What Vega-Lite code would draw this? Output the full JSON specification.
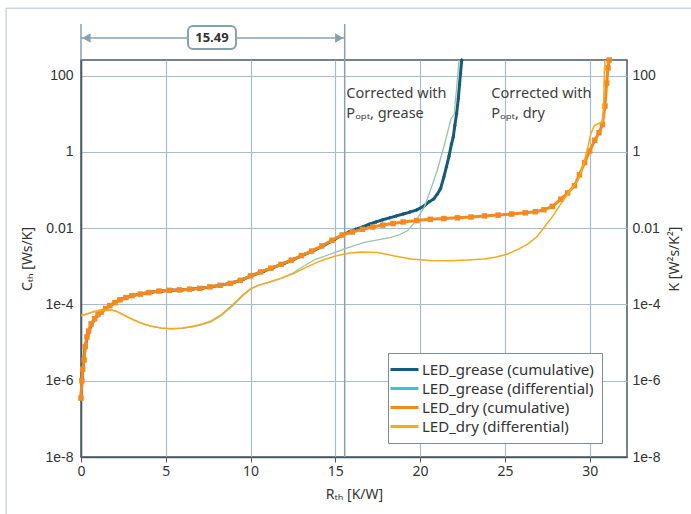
{
  "$schema": "https://vega.github.io/schema/vega-lite/v6.json",
  "width": 546,
  "height": 397,
  "padding": {"left": 5, "top": 7, "right": 0, "bottom": 0},
  "background": "white",
  "datasets": {
    "grease_cum": [
      {"R":0,"C":3.5e-7},{"R":0.1,"C":2e-6},{"R":0.25,"C":7.9e-6},{"R":0.45,"C":2e-5},{"R":0.8,"C":4.2e-5},{"R":1.2,"C":6.3e-5},{"R":1.7,"C":9.3e-5},{"R":2.3,"C":1.32e-4},{"R":3.0,"C":1.7e-4},{"R":3.6,"C":1.9e-4},{"R":4.2,"C":2.1e-4},{"R":4.8,"C":2.25e-4},{"R":5.4,"C":2.35e-4},{"R":6.0,"C":2.42e-4},{"R":6.6,"C":2.52e-4},{"R":7.2,"C":2.68e-4},{"R":7.8,"C":2.95e-4},{"R":8.4,"C":3.3e-4},{"R":9.0,"C":3.75e-4},{"R":9.6,"C":4.6e-4},{"R":10.2,"C":6.0e-4},{"R":10.8,"C":7.5e-4},{"R":11.4,"C":9.5e-4},{"R":12.0,"C":1.2e-3},{"R":12.6,"C":1.55e-3},{"R":13.2,"C":2.05e-3},{"R":13.8,"C":2.7e-3},{"R":14.4,"C":3.7e-3},{"R":15.0,"C":5.2e-3},{"R":15.4,"C":6.6e-3},{"R":15.8,"C":7.9e-3},{"R":16.2,"C":9.3e-3},{"R":16.6,"C":0.0107},{"R":17.0,"C":0.0126},{"R":17.4,"C":0.0145},{"R":17.8,"C":0.0166},{"R":18.2,"C":0.0186},{"R":18.6,"C":0.0209},{"R":19.0,"C":0.0234},{"R":19.4,"C":0.0263},{"R":19.8,"C":0.030},{"R":20.2,"C":0.037},{"R":20.5,"C":0.048},{"R":20.8,"C":0.058},{"R":21.0,"C":0.076},{"R":21.2,"C":0.107},{"R":21.4,"C":0.22},{"R":21.55,"C":0.4},{"R":21.7,"C":0.76},{"R":21.85,"C":1.6},{"R":21.95,"C":2.4},{"R":22.05,"C":5},{"R":22.15,"C":10},{"R":22.25,"C":24.5},{"R":22.32,"C":56},{"R":22.38,"C":112},{"R":22.45,"C":255}
    ],
    "grease_diff": [
      {"R":0,"C":5e-5},{"R":0.3,"C":5.5e-5},{"R":0.8,"C":6.5e-5},{"R":1.3,"C":6.9e-5},{"R":1.77,"C":7.2e-5},{"R":2.1,"C":6.6e-5},{"R":2.4,"C":5.7e-5},{"R":2.95,"C":4.2e-5},{"R":3.5,"C":3.3e-5},{"R":4.1,"C":2.7e-5},{"R":4.72,"C":2.4e-5},{"R":5.3,"C":2.3e-5},{"R":6.0,"C":2.35e-5},{"R":6.66,"C":2.6e-5},{"R":7.2,"C":3.0e-5},{"R":7.67,"C":3.5e-5},{"R":8.3,"C":5.2e-5},{"R":9.0,"C":9.5e-5},{"R":9.5,"C":1.6e-4},{"R":10.0,"C":2.5e-4},{"R":10.5,"C":3.2e-4},{"R":11.0,"C":3.7e-4},{"R":11.8,"C":4.9e-4},{"R":12.5,"C":6.6e-4},{"R":13.0,"C":9.3e-4},{"R":13.8,"C":1.5e-3},{"R":14.74,"C":2.1e-3},{"R":15.5,"C":2.8e-3},{"R":16.7,"C":4.2e-3},{"R":17.5,"C":4.9e-3},{"R":18.28,"C":5.7e-3},{"R":18.8,"C":6.8e-3},{"R":19.26,"C":8.5e-3},{"R":19.75,"C":0.0156},{"R":20.24,"C":0.035},{"R":20.64,"C":0.107},{"R":21.03,"C":0.35},{"R":21.42,"C":1.46},{"R":21.82,"C":7.3},{"R":22.01,"C":9.8},{"R":22.11,"C":30},{"R":22.25,"C":150},{"R":22.3,"C":255}
    ],
    "dry_cum": [
      {"R":0,"C":3.5e-7},{"R":0.05,"C":1e-6},{"R":0.1,"C":2e-6},{"R":0.18,"C":3.5e-6},{"R":0.25,"C":7.9e-6},{"R":0.35,"C":1.4e-5},{"R":0.45,"C":2e-5},{"R":0.6,"C":3.1e-5},{"R":0.8,"C":4.2e-5},{"R":1.0,"C":5.4e-5},{"R":1.2,"C":6.3e-5},{"R":1.45,"C":7.8e-5},{"R":1.7,"C":9.3e-5},{"R":2.0,"C":1.12e-4},{"R":2.3,"C":1.32e-4},{"R":2.65,"C":1.51e-4},{"R":3.0,"C":1.7e-4},{"R":3.5,"C":1.86e-4},{"R":4.0,"C":2.04e-4},{"R":4.6,"C":2.24e-4},{"R":5.2,"C":2.34e-4},{"R":5.8,"C":2.4e-4},{"R":6.4,"C":2.51e-4},{"R":7.0,"C":2.63e-4},{"R":7.6,"C":2.88e-4},{"R":8.2,"C":3.16e-4},{"R":8.8,"C":3.55e-4},{"R":9.4,"C":4.27e-4},{"R":10.0,"C":5.6e-4},{"R":10.6,"C":7.1e-4},{"R":11.2,"C":8.9e-4},{"R":11.8,"C":1.12e-3},{"R":12.4,"C":1.45e-3},{"R":13.0,"C":1.9e-3},{"R":13.6,"C":2.5e-3},{"R":14.2,"C":3.4e-3},{"R":14.8,"C":4.8e-3},{"R":15.4,"C":6.6e-3},{"R":16.0,"C":7.9e-3},{"R":16.6,"C":9.3e-3},{"R":17.2,"C":0.0107},{"R":17.8,"C":0.012},{"R":18.4,"C":0.0132},{"R":19.0,"C":0.0145},{"R":19.8,"C":0.0158},{"R":20.6,"C":0.017},{"R":21.4,"C":0.0178},{"R":22.2,"C":0.0186},{"R":23.0,"C":0.0195},{"R":23.8,"C":0.0209},{"R":24.6,"C":0.0219},{"R":25.4,"C":0.0234},{"R":26.2,"C":0.0251},{"R":26.8,"C":0.0269},{"R":27.3,"C":0.0302},{"R":27.8,"C":0.0372},{"R":28.3,"C":0.0575},{"R":28.7,"C":0.083},{"R":29.1,"C":0.129},{"R":29.4,"C":0.251},{"R":29.7,"C":0.525},{"R":30.0,"C":1.05},{"R":30.3,"C":2.0},{"R":30.55,"C":3.16},{"R":30.75,"C":5.2},{"R":30.9,"C":15.8},{"R":31.0,"C":63},{"R":31.08,"C":158},{"R":31.15,"C":255}
    ],
    "dry_diff": [
      {"R":0,"C":5.2e-5},{"R":0.3,"C":5.5e-5},{"R":0.8,"C":6.6e-5},{"R":1.3,"C":6.9e-5},{"R":1.77,"C":7.1e-5},{"R":2.1,"C":6.6e-5},{"R":2.4,"C":5.6e-5},{"R":2.95,"C":4.2e-5},{"R":3.5,"C":3.3e-5},{"R":4.1,"C":2.7e-5},{"R":4.72,"C":2.4e-5},{"R":5.3,"C":2.3e-5},{"R":6.0,"C":2.4e-5},{"R":6.66,"C":2.7e-5},{"R":7.2,"C":3.1e-5},{"R":7.67,"C":3.7e-5},{"R":8.3,"C":5.5e-5},{"R":9.0,"C":1.04e-4},{"R":9.5,"C":1.7e-4},{"R":10.0,"C":2.6e-4},{"R":10.5,"C":3.2e-4},{"R":11.0,"C":3.7e-4},{"R":11.8,"C":4.8e-4},{"R":12.5,"C":6.3e-4},{"R":13.3,"C":9.5e-4},{"R":14.15,"C":1.4e-3},{"R":15.0,"C":1.85e-3},{"R":15.75,"C":2.2e-3},{"R":16.5,"C":2.35e-3},{"R":17.49,"C":2.3e-3},{"R":18.5,"C":1.85e-3},{"R":19.46,"C":1.55e-3},{"R":20.6,"C":1.42e-3},{"R":21.8,"C":1.4e-3},{"R":22.8,"C":1.45e-3},{"R":23.78,"C":1.55e-3},{"R":24.5,"C":1.75e-3},{"R":25.16,"C":2.1e-3},{"R":25.8,"C":2.8e-3},{"R":26.34,"C":3.8e-3},{"R":26.9,"C":6.0e-3},{"R":27.32,"C":0.0105},{"R":27.8,"C":0.02},{"R":28.3,"C":0.043},{"R":28.8,"C":0.09},{"R":29.29,"C":0.175},{"R":29.55,"C":0.35},{"R":29.8,"C":0.9},{"R":30.07,"C":3.0},{"R":30.27,"C":4.9},{"R":30.56,"C":5.6},{"R":30.76,"C":5.9},{"R":30.82,"C":16},{"R":30.86,"C":100},{"R":30.9,"C":255}
    ]
  },
  "layer": [
    {
      "encoding": {
        "x": {"field": "R", "type": "quantitative", "scale": {"domain": [0, 32.2], "nice": false, "zero": false},
          "axis": {"title": "Rₜₕ [K/W]", "values": [0,5,10,15,20,25,30], "grid": true, "tickSize": 5, "labelFont": "Noto Sans", "labelFontSize": 14, "labelPadding": 2, "titlePadding": 9, "labelFlush": false}},
        "y": {"field": "C", "type": "quantitative", "scale": {"type": "log", "domain": [1e-8, 255], "nice": false},
          "axis": {"title": "Cₜₕ [Ws/K]", "values": [1e-8,1e-6,1e-4,0.01,1,100], "grid": true, "tickSize": 0, "labelPadding": 8, "titlePadding": 10, "labelFlush": false,
            "labelExpr": "datum.value >= 1 ? format(datum.value, 'd') : datum.value >= 0.01 ? '0.01' : '1e' + round(log(datum.value) / LN10)"}}
      },
      "layer": [
        {
          "data": {"values": [{"R": -4.42, "R2": 36.0, "C": 5821}]},
          "mark": {"type": "rule", "color": "#b3c2cc", "strokeWidth": 1},
          "encoding": {"x2": {"field": "R2"}}
        },
        {
          "data": {"values": [{"R": -4.42, "C": 3.2e-10, "C2": 5821}]},
          "mark": {"type": "rule", "color": "#b3c2cc", "strokeWidth": 1},
          "encoding": {"y2": {"field": "C2"}}
        },
        {
          "data": {"values": [{"R": 0, "C": 255, "C2": 2240}, {"R": 15.55, "C": 1e-8, "C2": 2240}]},
          "mark": {"type": "rule", "color": "#87a0b0", "strokeWidth": 1.5},
          "encoding": {"y2": {"field": "C2"}}
        },
        {
          "data": {"values": [{"R": 0, "R2": 15.55, "C": 963}]},
          "mark": {"type": "rule", "color": "#87a0b0", "strokeWidth": 1.5},
          "encoding": {"x2": {"field": "R2"}}
        },
        {
          "data": {"values": [{"R": 0.32, "C": 963, "dir": "left"}, {"R": 15.23, "C": 963, "dir": "right"}]},
          "mark": {"type": "point", "filled": true, "color": "#87a0b0", "size": 90, "opacity": 1},
          "encoding": {"shape": {"field": "dir", "type": "nominal", "scale": {"domain": ["left", "right"], "range": ["triangle-left", "triangle-right"]}, "legend": null}}
        },
        {
          "data": {"values": [{"R": 6.31, "R2": 9.14, "C": 495, "C2": 1995}]},
          "mark": {"type": "rect", "fill": "white", "stroke": "#87a0b0", "strokeWidth": 2, "cornerRadius": 5},
          "encoding": {"x2": {"field": "R2"}, "y2": {"field": "C2"}}
        },
        {
          "data": {"values": [{"R": 7.72, "C": 963, "label": "15.49"}]},
          "mark": {"type": "text", "font": "Noto Sans", "fontSize": 13, "fontWeight": "bold", "color": "#333333", "align": "center", "baseline": "middle"},
          "encoding": {"text": {"field": "label"}}
        },
        {
          "data": {"name": "grease_cum"},
          "transform": [{"calculate": "'LED_grease (cumulative)'", "as": "series"}],
          "mark": {"type": "line", "strokeWidth": 3, "point": {"shape": "diamond", "size": 16, "filled": true}},
          "encoding": {"color": {"field": "series", "type": "nominal",
            "scale": {"domain": ["LED_grease (cumulative)", "LED_grease (differential)", "LED_dry (cumulative)", "LED_dry (differential)"], "range": ["#165a7c", "#41bde2", "#f28a1f", "#f9a81a"]},
            "legend": {"orient": "none", "legendX": 307, "legendY": 293, "title": null, "symbolType": "M-2,0H2", "symbolSize": 196, "symbolStrokeWidth": 3, "labelFont": "Noto Sans", "labelFontSize": 15, "labelColor": "#333333", "strokeColor": "#7d8c96", "fillColor": "white", "padding": 8, "rowPadding": 2, "labelOffset": 9, "labelLimit": 300,
              "encode": {"symbols": {"update": {"stroke": {"scale": "color", "field": "value"}, "fill": {"value": "transparent"}, "strokeWidth": {"value": 3}}}}}}}
        },
        {
          "data": {"name": "grease_diff"},
          "mark": {"type": "line", "strokeWidth": 1.3, "color": "#99c4a8"},
          "encoding": {}
        },
        {
          "data": {"name": "dry_cum"},
          "transform": [{"calculate": "'LED_dry (cumulative)'", "as": "series"}],
          "mark": {"type": "line", "strokeWidth": 3, "point": {"shape": "square", "size": 30, "filled": true}},
          "encoding": {"color": {"field": "series", "type": "nominal",
            "scale": {"domain": ["LED_grease (cumulative)", "LED_grease (differential)", "LED_dry (cumulative)", "LED_dry (differential)"], "range": ["#165a7c", "#41bde2", "#f28a1f", "#f9a81a"]}}}
        },
        {
          "data": {"name": "dry_diff"},
          "transform": [{"calculate": "'LED_dry (differential)'", "as": "series"}],
          "mark": {"type": "line", "strokeWidth": 1.5},
          "encoding": {"color": {"field": "series", "type": "nominal",
            "scale": {"domain": ["LED_grease (cumulative)", "LED_grease (differential)", "LED_dry (cumulative)", "LED_dry (differential)"], "range": ["#165a7c", "#41bde2", "#f28a1f", "#f9a81a"]}}}
        },
        {
          "data": {"values": [
            {"R": 15.65, "C": 32, "label": "Corrected with"},
            {"R": 15.65, "C": 9.6, "label": "Pₒₚₜ, grease"},
            {"R": 24.2, "C": 32, "label": "Corrected with"},
            {"R": 24.2, "C": 9.6, "label": "Pₒₚₜ, dry"}
          ]},
          "mark": {"type": "text", "font": "Noto Sans", "fontSize": 14.5, "color": "#404040", "align": "left", "baseline": "middle"},
          "encoding": {"text": {"field": "label"}}
        }
      ]
    },
    {
      "data": {"name": "dry_cum"},
      "mark": {"type": "point", "opacity": 0},
      "encoding": {
        "x": {"field": "R", "type": "quantitative", "scale": {"domain": [0, 32.2], "nice": false, "zero": false}},
        "y": {"field": "C", "type": "quantitative", "scale": {"type": "log", "domain": [1e-8, 255], "nice": false},
          "axis": {"orient": "right", "title": "K [W²s/K²]", "titleAngle": 270, "values": [1e-8,1e-6,1e-4,0.01,1,100], "grid": false, "domain": false, "tickSize": 0, "labelPadding": 5, "titlePadding": 21, "labelFlush": false,
            "labelExpr": "datum.value >= 1 ? format(datum.value, 'd') : datum.value >= 0.01 ? '0.01' : '1e' + round(log(datum.value) / LN10)"}}
      }
    }
  ],
  "resolve": {"axis": {"y": "independent"}},
  "config": {
    "view": {"stroke": "#4a5863", "strokeWidth": 1.5},
    "font": "Noto Sans",
    "axis": {"gridColor": "#a9bcc9", "gridWidth": 1.2, "gridOpacity": 1, "domainColor": "#4a5863", "domainWidth": 1.5, "tickColor": "#4a5863", "labelColor": "#333333", "titleColor": "#333333", "labelFont": "Liberation Sans", "labelFontSize": 14, "titleFont": "Noto Sans", "titleFontSize": 14, "titleFontWeight": "normal"}
  }
}
